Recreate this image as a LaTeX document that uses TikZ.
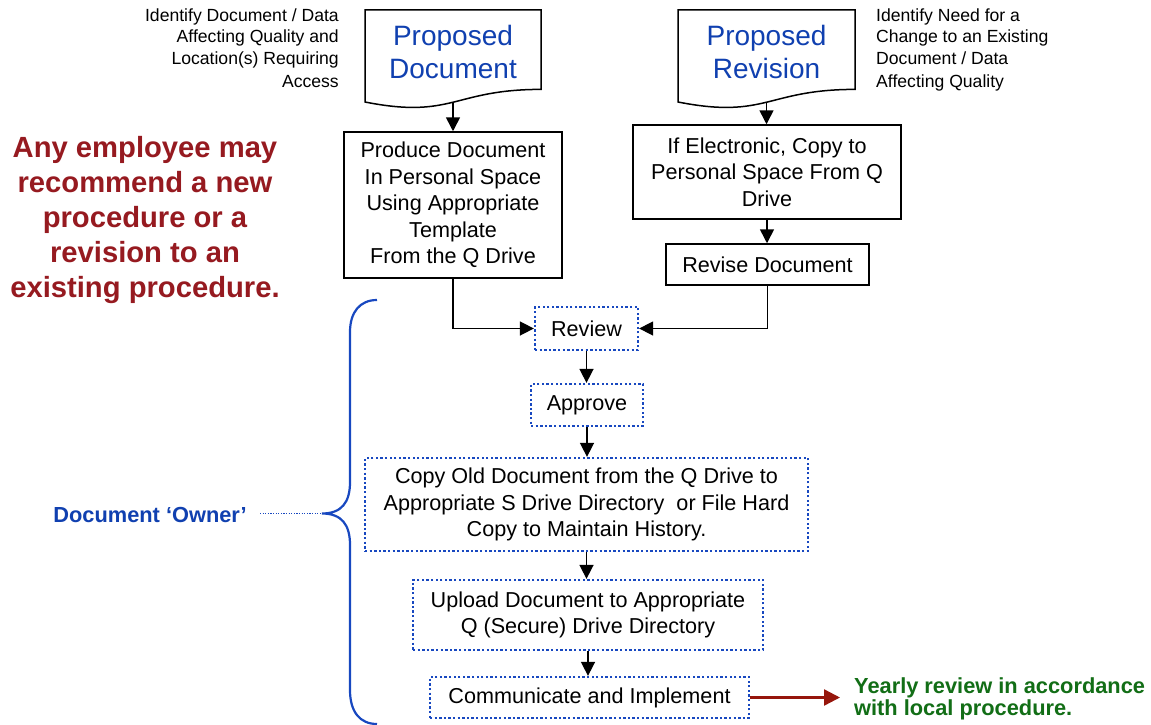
\documentclass[tikz,border=0pt]{standalone}
\usepackage{fontspec}
\setmainfont{Liberation Sans}
\usetikzlibrary{arrows.meta,calc}

\definecolor{docblue}{RGB}{16,64,176}
\definecolor{linkblue}{RGB}{24,72,192}
\definecolor{notered}{RGB}{150,26,32}
\definecolor{arrowred}{RGB}{150,22,12}
\definecolor{notegreen}{RGB}{18,110,22}

\newcommand{\fbody}{\fontsize{21.6}{26.5}\selectfont}
\newcommand{\fdoc}{\fontsize{28}{33}\selectfont}
\newcommand{\fnote}{\fontsize{17.6}{22}\selectfont}
\newcommand{\fred}{\fontsize{29.2}{35}\selectfont\bfseries}
\newcommand{\fowner}{\fontsize{21.8}{24}\selectfont\bfseries}
\newcommand{\fgreen}{\fontsize{21.8}{22}\selectfont\bfseries}

\tikzset{
  procbox/.style={draw=black, line width=1.5pt, inner sep=0pt, align=center, font=\fbody},
  ownerbox/.style={draw=linkblue, line width=2.3pt, dash pattern=on 2.3pt off 2.3pt,
                   inner sep=0pt, align=center, font=\fbody},
  docshape/.style={draw=black, line width=1.5pt, fill=white},
  flow/.style={-{Triangle[length=14pt,width=14pt]}, line width=1.6pt, draw=black},
  bracestyle/.style={draw=linkblue, line width=2.2pt},
}

\begin{document}
\begin{tikzpicture}[x=1pt,y=-1pt]
\useasboundingbox[fill=white] (0,0) rectangle (1151,725);

% input documents (anchor=base sits on the last line)
\draw[docshape] (365,10) -- (541,10) -- (541,89.4)
  .. controls (453,89.4) and (453,119.4) .. (365,102) -- cycle;
\node[font=\fdoc, text=docblue, align=center, anchor=base, inner sep=0pt] (pdtext) at (453,78) {Proposed\\Document};
\coordinate (pdbot) at (453,102.2);

\draw[docshape] (678,10) -- (855,10) -- (855,89.4)
  .. controls (766.5,89.4) and (766.5,119.4) .. (678,102) -- cycle;
\node[font=\fdoc, text=docblue, align=center, anchor=base, inner sep=0pt] (prtext) at (766.5,78) {Proposed\\Revision};
\coordinate (prbot) at (766.5,102.2);

% annotations
\node[font=\fnote, align=right, anchor=base east, inner sep=0pt] (lnote) at (339,87)
  {Identify Document / Data\\Affecting Quality and\\Location(s) Requiring\\Access};
\node[font=\fnote, align=left, anchor=base west, inner sep=0pt] (rnote) at (876,87)
  {Identify Need for a\\Change to an Existing\\Document / Data\\Affecting Quality};

\node[font=\fred, text=notered, align=center, anchor=base, inner sep=0pt] (anyone) at (145,297)
  {Any employee may\\recommend a new\\procedure or a\\revision to an\\existing procedure.};

% process steps
\node[procbox, minimum width=218pt, minimum height=146pt] (produce) at (453,205)
  {Produce Document\\In Personal Space\\Using Appropriate\\Template\\From the Q Drive};
\node[procbox, minimum width=268pt, minimum height=94pt] (elec) at (767,172)
  {If Electronic, Copy to\\Personal Space From Q\\Drive};
\node[procbox, minimum width=203pt, minimum height=41pt] (revise) at (767.5,264.5)
  {Revise Document};

\node[ownerbox, minimum width=103pt, minimum height=43pt] (review) at (586.5,328.5) {Review};
\node[ownerbox, minimum width=112pt, minimum height=42pt] (approve) at (587,405) {Approve};
\node[ownerbox, minimum width=443pt, minimum height=93pt] (copy) at (586.5,504.5)
  {Copy Old Document from the Q Drive to\\Appropriate S Drive Directory\ \ or File Hard\\Copy to Maintain History.};
\node[ownerbox, minimum width=350pt, minimum height=70pt] (upload) at (588,615)
  {Upload Document to Appropriate\\Q (Secure) Drive Directory};
\node[ownerbox, minimum width=319pt, minimum height=41pt] (comm) at (589.5,697.5)
  {Communicate and Implement};

% flow connectors
\draw[flow] (pdbot) -- (pdbot |- produce.north);
\draw[flow] (prbot) -- (prbot |- elec.north);
\draw[flow] (elec.south) -- (elec.south |- revise.north);
\draw[flow] (produce.south) |- (review.west);
\draw[flow] (revise.south) |- (review.east);
\draw[flow] (review.south) -- (review.south |- approve.north);
\draw[flow] (approve.south) -- (approve.south |- copy.north);
\draw[flow] (copy.south) -- (copy.south |- upload.north);
\draw[flow] (upload.south) -- (upload.south |- comm.north);

% follow-up note
\node[font=\fgreen, text=notegreen, align=left, anchor=base west, inner sep=0pt] (yearly) at (854,715)
  {Yearly review in accordance\\with local procedure.};
\draw[arrowred, line width=2.4pt, -{Triangle[length=16pt,width=16pt]}]
  (comm.east) -- ($(comm.east -| yearly.west)+(-14,0)$);

% owner brace
\coordinate (tip) at (322,513.5);
\draw[bracestyle] (377,300) .. controls (360,300) and (350,312) .. (350,332)
  -- (350,482) .. controls (350,502) and (342,513.5) .. (tip)
  .. controls (342,513.5) and (350,525) .. (350,545)
  -- (350,690) .. controls (350,712) and (360,724) .. (377,724);
\node[font=\fowner, text=docblue, anchor=base east, inner sep=0pt] (owner) at (247,522) {Document ‘Owner’};
\draw[linkblue, line width=1.3pt, dash pattern=on 1.2pt off 1.4pt] ([xshift=13pt]owner.east |- tip) -- (tip);
\end{tikzpicture}
\end{document}
